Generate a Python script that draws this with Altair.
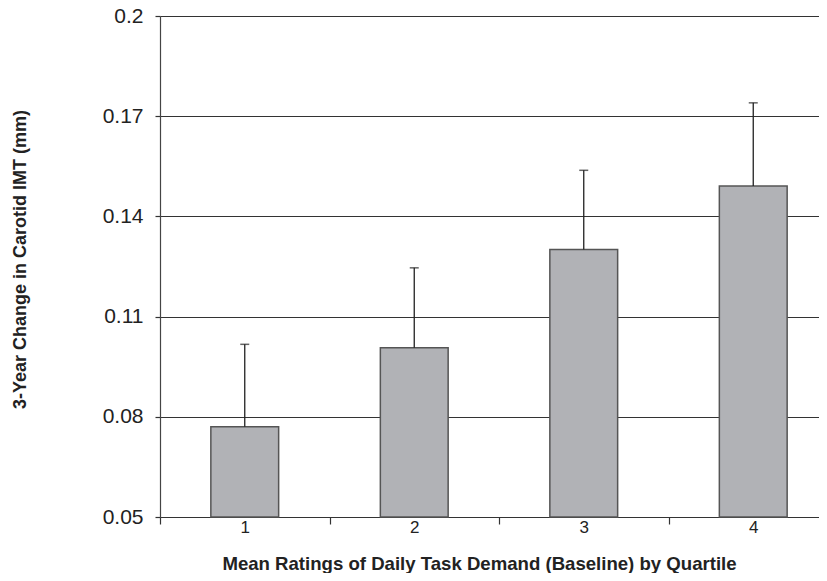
import altair as alt
import pandas as pd

quartiles = [1, 2, 3, 4]
means = [0.0770, 0.1007, 0.1301, 0.1491]
uppers = [0.1017, 0.1246, 0.1538, 0.1740]

df = pd.DataFrame({"q": quartiles, "mean": means, "upper": uppers})

FONT = "Liberation Sans"
y_scale = alt.Scale(domain=[0.05, 0.2], nice=False, zero=False)
x_scale = alt.Scale(domain=[0.5, 4.5], nice=False, zero=False)

base = alt.Chart(df)

bars = base.transform_calculate(
    lo="datum.q - 0.2", hi="datum.q + 0.2", base="0.05"
).mark_bar(fill="#b1b2b6", stroke="#555555", strokeWidth=1.5).encode(
    x=alt.X(
        "lo:Q",
        scale=x_scale,
        axis=alt.Axis(
            values=[0.5, 1, 1.5, 2, 2.5, 3, 3.5, 4, 4.5],
            format=".0f",
            labelOverlap=False,
            labelFlush=False,
            labelOpacity={"condition": {"test": "datum.value % 1 === 0", "value": 1}, "value": 0},
            tickOpacity={"condition": {"test": "datum.value % 1 === 0", "value": 0}, "value": 1},
            tickSize=7,
            tickColor="#333333",
            tickWidth=1.2,
            labelPadding=-5,
            labelFontSize=17,
            labelFont=FONT,
            labelColor="#222222",
            domainColor="#333333",
            domainWidth=1.2,
            grid=False,
            title="Mean Ratings of Daily Task Demand (Baseline) by Quartile",
            titleFont=FONT,
            titleFontSize=18.6,
            titleFontWeight="bold",
            titleColor="#222222",
            titleX=319,
            titleY=46,
            titleAlign="center",
            titleBaseline="middle",
        ),
    ),
    x2="hi:Q",
    y=alt.Y(
        "mean:Q",
        scale=y_scale,
        axis=alt.Axis(
            values=[0.05, 0.08, 0.11, 0.14, 0.17, 0.2],
            format=".2~f",
            tickSize=5,
            tickColor="#333333",
            tickWidth=1.2,
            labelPadding=12,
            labelFontSize=21,
            labelFont=FONT,
            labelColor="#222222",
            domainColor="#444444",
            domainWidth=1.2,
            grid=True,
            gridColor="#333333",
            gridWidth=1.2,
            title="3-Year Change in Carotid IMT (mm)",
            titleFont=FONT,
            titleFontSize=18,
            titleFontWeight="bold",
            titleColor="#222222",
            titleX=-140,
            titleY=243,
            titleAngle=270,
            titleAlign="center",
            titleBaseline="middle",
        ),
    ),
    y2="base:Q",
)

err_line = base.mark_rule(color="#222222", strokeWidth=1.3).encode(
    x=alt.X("q:Q", scale=x_scale),
    y=alt.Y("mean:Q", scale=y_scale),
    y2="upper:Q",
)

err_cap = base.mark_tick(orient="horizontal", color="#222222", size=9, thickness=1.5).encode(
    x=alt.X("q:Q", scale=x_scale),
    y=alt.Y("upper:Q", scale=y_scale),
)

chart = alt.layer(bars, err_line, err_cap).properties(
    width=678,
    height=501,
    autosize=alt.AutoSizeParams(type="none"),
    padding={"left": 152, "top": 8, "right": -19, "bottom": 56},
).configure_view(stroke=None).configure(background="white")

chart.save("out.html", embed_options={"renderer": "svg", "actions": False})
